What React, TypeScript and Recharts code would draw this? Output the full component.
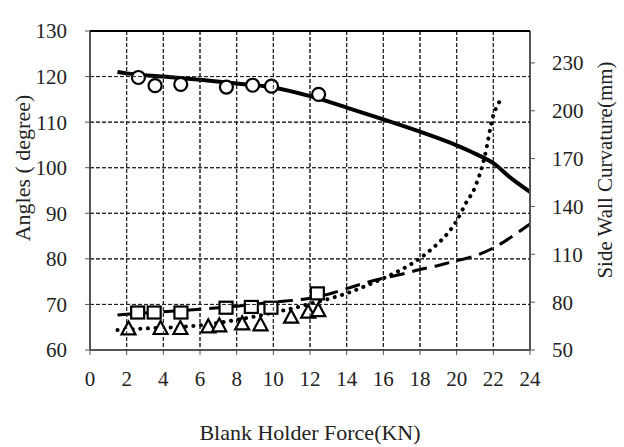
import { ComposedChart, Line, XAxis, YAxis, Label, CartesianGrid } from 'recharts'

// blank holder force (KN)
const xTicks = [0, 2, 4, 6, 8, 10, 12, 14, 16, 18, 20, 22, 24]
const angleTicks = [60, 70, 80, 90, 100, 110, 120, 130]
const curvTicks = [50, 80, 110, 140, 170, 200, 230]

// simulated angle (solid)
const angleSimX = [1.5, 2, 4, 6, 8, 10, 12, 14, 16, 18, 20, 21, 22, 23, 24]
const angleSimY = [121, 120.7, 120, 119.3, 118.5, 117.6, 115.7, 113.2, 110.6, 107.9, 104.9, 103.1, 101, 97.6, 94.7]

// experimental angle (circles)
const angleExpX = [2.64, 3.55, 4.95, 7.44, 8.87, 9.9, 12.47]
const angleExpY = [119.8, 118, 118.3, 117.7, 118.1, 117.9, 116.1]

// simulated curvature, dotted
const curvDotX = [1.5, 3, 4, 5, 6, 7, 8, 9, 10, 11, 12, 13, 14, 15, 16, 17, 18, 18.5, 19, 19.5, 20, 20.5, 21, 21.5, 22, 22.35]
const curvDotY = [62.5, 63.5, 64, 64.5, 65.5, 67, 69, 71, 73.5, 76, 79, 82, 85.5, 90, 95, 100.5, 107.5, 112, 117, 123, 131, 142, 152, 170, 197, 206]

// simulated curvature, dashed
const curvDashX = [1.5, 4, 6, 8, 10, 12, 13, 14, 15, 16, 17, 18, 19, 20, 21, 22, 23, 24]
const curvDashY = [72, 74, 75.5, 77.5, 80, 82.5, 85, 88.5, 92, 95, 97.5, 100.5, 103, 106, 109, 114, 121, 129]

// experimental curvature (squares, triangles)
const curvSqX = [2.6, 3.5, 4.96, 7.42, 8.8, 9.87, 12.4]
const curvSqY = [73.5, 73.5, 73.5, 76.5, 77, 76.5, 85.5]
const curvTriX = [2.1, 3.85, 4.93, 6.45, 7.05, 8.3, 9.3, 10.97, 11.9, 12.45]
const curvTriY = [63.5, 63.8, 63.8, 64.8, 65.5, 66.7, 66.1, 70.9, 74, 75]

const zip = (xs: number[], ys: number[]) => xs.map((x, i) => ({ x, y: ys[i] }))

// layout
const W = 624
const H = 447
const TOP = 31
const LEFT_W = 90
const RIGHT_W = 94
const X_H = 97
const PLOT_W = W - LEFT_W - RIGHT_W
const PLOT_H = H - TOP - X_H
const TICK = 5
const X_GAP = 16
const Y_GAP = 18

const X_MIN = xTicks[0]
const X_MAX = xTicks[xTicks.length - 1]
const Y_MIN = angleTicks[0]
const Y_MAX = angleTicks[angleTicks.length - 1]

const FONT = "'Liberation Serif', 'Times New Roman', serif"
const tickStyle = { fontFamily: FONT, fontSize: 21, fill: '#222' }
const GRID = { stroke: '#222', strokeWidth: 1, strokeDasharray: '4 2' }

// x tick label + vertical dashed grid line at the tick
const XTick = (p: any) => {
  const v = Number(p.payload?.value)
  const axisY = Number(p.y) - TICK - X_GAP
  const inner = v !== X_MIN && v !== X_MAX
  return (
    <g>
      {inner && <line x1={p.x} x2={p.x} y1={axisY - PLOT_H} y2={axisY} {...GRID} />}
      <text x={p.x} y={p.y} dy="0.71em" textAnchor="middle" {...tickStyle}>
        {v}
      </text>
    </g>
  )
}

// left tick label + horizontal dashed grid line (solid border at the top)
const YTick = (p: any) => {
  const v = Number(p.payload?.value)
  const axisX = Number(p.x) + TICK + Y_GAP
  const inner = v !== Y_MIN && v !== Y_MAX
  return (
    <g>
      {inner && <line x1={axisX} x2={axisX + PLOT_W} y1={p.y} y2={p.y} {...GRID} />}
      {v === Y_MAX && <line x1={axisX} x2={axisX + PLOT_W} y1={p.y} y2={p.y} stroke="#000" strokeWidth={2} />}
      <text x={p.x} y={p.y} dy="0.355em" textAnchor="end" {...tickStyle}>
        {v}
      </text>
    </g>
  )
}

const circleDot = (p: any) => (
  <circle key={p.index} cx={p.cx} cy={p.cy} r={6.5} fill="#fff" stroke="#000" strokeWidth={2.2} />
)
const squareDot = (p: any) => (
  <rect key={p.index} x={p.cx - 6.5} y={p.cy - 6} width={13} height={12} fill="#fff" stroke="#000" strokeWidth={2.2} />
)
const triDot = (p: any) => (
  <polygon
    key={p.index}
    points={`${p.cx},${p.cy - 7} ${p.cx + 7},${p.cy + 6} ${p.cx - 7},${p.cy + 6}`}
    fill="#fff"
    stroke="#000"
    strokeWidth={2.2}
  />
)

export default function App() {
  return (
    <div style={{ position: 'absolute', left: 0, top: 0, width: W, height: H, background: '#fff' }}>
      <ComposedChart width={W} height={H} margin={{ top: TOP, right: 0, bottom: 0, left: 0 }}>
        <CartesianGrid {...GRID} />
        <XAxis
          type="number"
          dataKey="x"
          domain={[X_MIN, X_MAX]}
          ticks={xTicks}
          height={X_H}
          tick={XTick}
          tickSize={TICK}
          tickMargin={X_GAP}
          axisLine={{ stroke: '#555', strokeWidth: 2 }}
          tickLine={{ stroke: '#555' }}
        >
          <Label
            content={() => (
              <text x={310} y={440} textAnchor="middle" fontFamily={FONT} fontSize={22} fill="#222">
                Blank Holder Force(KN)
              </text>
            )}
          />
        </XAxis>
        <YAxis
          orientation="left"
          dataKey="y"
          domain={[Y_MIN, Y_MAX]}
          ticks={angleTicks}
          width={LEFT_W}
          tick={YTick}
          tickSize={TICK}
          tickMargin={Y_GAP}
          axisLine={{ stroke: '#555', strokeWidth: 2 }}
          tickLine={{ stroke: '#555' }}
        >
          <Label
            content={() => (
              <text
                x={22}
                y={168}
                transform="rotate(-90 22 168)"
                textAnchor="middle"
                dominantBaseline="central"
                fontFamily={FONT}
                fontSize={22}
                fill="#222"
              >
                Angles ( degree)
              </text>
            )}
          />
        </YAxis>
        <YAxis
          yAxisId="right"
          orientation="right"
          dataKey="y"
          domain={[50, 250]}
          ticks={curvTicks}
          width={RIGHT_W}
          tick={tickStyle}
          tickSize={TICK}
          tickMargin={17}
          axisLine={{ stroke: '#555', strokeWidth: 2 }}
          tickLine={{ stroke: '#555' }}
        >
          <Label
            content={() => (
              <text
                x={605}
                y={170}
                transform="rotate(-90 605 170)"
                textAnchor="middle"
                dominantBaseline="central"
                fontFamily={FONT}
                fontSize={21}
                fill="#222"
              >
                Side Wall Curvature(mm)
              </text>
            )}
          />
        </YAxis>

        <Line
          data={zip(angleSimX, angleSimY)}
          dataKey="y"
          type="monotone"
          stroke="#000"
          strokeWidth={4}
          dot={false}
          isAnimationActive={false}
        />
        <Line
          yAxisId="right"
          data={zip(curvDotX, curvDotY)}
          dataKey="y"
          type="monotone"
          stroke="#000"
          strokeWidth={4}
          strokeDasharray="0.1 7.5"
          strokeLinecap="round"
          dot={false}
          isAnimationActive={false}
        />
        <Line
          yAxisId="right"
          data={zip(curvDashX, curvDashY)}
          dataKey="y"
          type="monotone"
          stroke="#000"
          strokeWidth={3}
          strokeDasharray="15 8"
          dot={false}
          isAnimationActive={false}
        />
        <Line
          data={zip(angleExpX, angleExpY)}
          dataKey="y"
          stroke="none"
          dot={circleDot}
          activeDot={false}
          isAnimationActive={false}
        />
        <Line
          yAxisId="right"
          data={zip(curvSqX, curvSqY)}
          dataKey="y"
          stroke="none"
          dot={squareDot}
          activeDot={false}
          isAnimationActive={false}
        />
        <Line
          yAxisId="right"
          data={zip(curvTriX, curvTriY)}
          dataKey="y"
          stroke="none"
          dot={triDot}
          activeDot={false}
          isAnimationActive={false}
        />
      </ComposedChart>
    </div>
  )
}
